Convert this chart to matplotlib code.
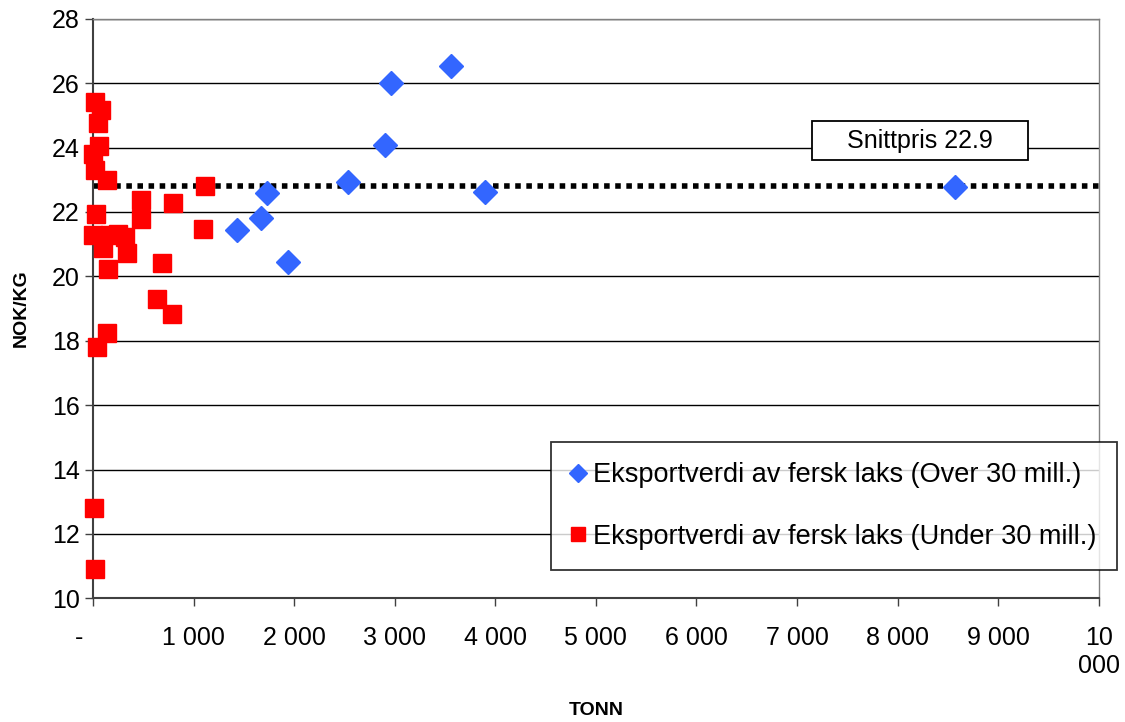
import matplotlib.pyplot as plt
from matplotlib.patches import Rectangle
from matplotlib.ticker import FixedLocator

plt.rcParams['font.family'] = ['Liberation Sans', 'DejaVu Sans']

# Eksportverdi over 30 mill. (tonn, NOK/kg)
over_tonn = [3555, 2963, 2907, 2533, 3896, 1729, 1667, 1432, 1938, 8568]
over_pris = [26.54, 25.99, 24.08, 22.94, 22.63, 22.58, 21.82, 21.44, 20.45, 22.78]

# Eksportverdi under 30 mill.
under_tonn = [20, 76, 46, 63, 3, 20, 136, 27, 3, 102, 169, 251, 317, 333,
              476, 476, 797, 1118, 1095, 688, 152, 632, 787, 136, 43, 13, 20]
under_pris = [25.42, 25.16, 24.75, 24.06, 23.8, 23.3, 22.99, 21.93, 21.28,
              20.87, 21.28, 21.31, 21.23, 20.71, 22.37, 21.77, 22.27, 22.8,
              21.46, 20.42, 20.22, 19.29, 18.83, 18.25, 17.81, 12.81, 10.9]

snittpris = 22.8
x_ticks = [0, 1000, 2000, 3000, 4000, 5000, 6000, 7000, 8000, 9000, 10000]
x_labels = ['-    ', '1 000', '2 000', '3 000', '4 000', '5 000', '6 000',
            '7 000', '8 000', '9 000', '10\n000']

fig = plt.figure(figsize=(11.25, 7.22), dpi=100)
ax = fig.add_axes([0.0827, 0.1713, 0.894, 0.8028])

ax.set_xlim(0, 10000)
ax.set_ylim(10, 28)
ax.set_yticks(range(10, 29, 2))
ax.xaxis.set_major_locator(FixedLocator(x_ticks))
ax.set_xticklabels(x_labels)
ax.grid(axis='y', color='black', linewidth=1)
ax.set_axisbelow(True)

for side in ['top', 'right']:
    ax.spines[side].set_color('#808080')
    ax.spines[side].set_linewidth(1)
for side in ['left', 'bottom']:
    ax.spines[side].set_color('#404040')
    ax.spines[side].set_linewidth(1.5)

ax.tick_params(axis='both', direction='out', length=6, width=1, color='#404040',
               labelsize=18)
ax.tick_params(axis='x', pad=14)

ax.plot([0, 10000], [snittpris, snittpris], color='black', linewidth=4,
        linestyle=(0, (1, 1)), dash_capstyle='butt', zorder=2)

ax.plot(over_tonn, over_pris, linestyle='none', marker='D', markersize=12,
        color='#3366FF', zorder=3, clip_on=False,
        label='Eksportverdi av fersk laks (Over 30 mill.)')
ax.plot(under_tonn, under_pris, linestyle='none', marker='s', markersize=13,
        color='#FF0000', zorder=3, clip_on=False,
        label='Eksportverdi av fersk laks (Under 30 mill.)')

ax.set_ylabel('NOK/KG', fontsize=14, fontweight='bold', labelpad=16)
ax.set_xlabel('TONN', fontsize=14, fontweight='bold', labelpad=17)

# Snittpris-boks
fig.patches.append(Rectangle((812 / 1125, 1 - 160 / 722), 216 / 1125, 39 / 722,
                             transform=fig.transFigure, facecolor='white',
                             edgecolor='black', linewidth=1.3, zorder=5))
fig.text(920 / 1125, 1 - 141 / 722, 'Snittpris 22.9', fontsize=18,
         ha='center', va='center', zorder=6)

leg = fig.legend(loc='upper left', bbox_to_anchor=(551 / 1125, 1 - 442 / 722),
                 fontsize=19.5, frameon=True, fancybox=False, shadow=False,
                 handlelength=0.5, handletextpad=0.3, labelspacing=1.3,
                 borderpad=0.75, borderaxespad=0, markerscale=0.8)
leg.get_frame().set_edgecolor('black')
leg.get_frame().set_linewidth(1.3)

fig.savefig('out.png', dpi=100)
